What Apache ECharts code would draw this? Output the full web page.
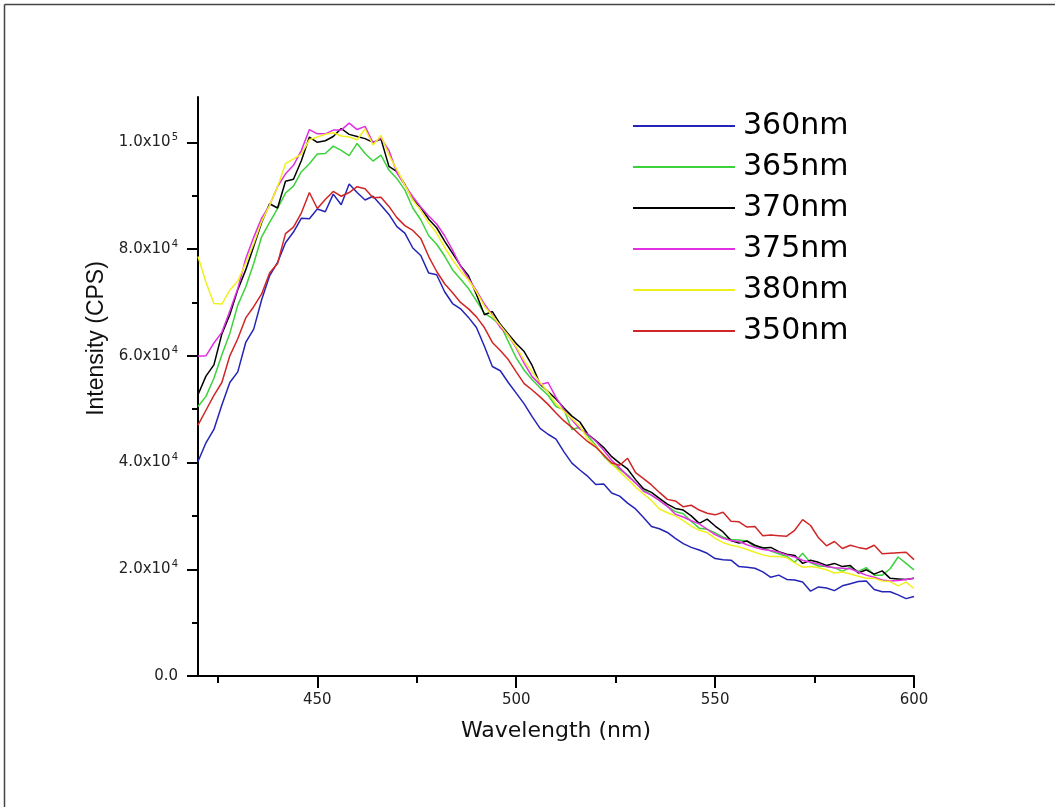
<!DOCTYPE html>
<html><head><meta charset="utf-8">
<script src="https://cdn.jsdelivr.net/npm/echarts@6/dist/echarts.min.js"></script>
<style>html,body{margin:0;padding:0;background:#fff}#c{width:1055px;height:807px}</style>
</head><body><div id="c"></div>
<script>
const wavelength = [420,422,424,426,428,430,432,434,436,438,440,442,444,446,448,450,452,454,456,458,460,462,464,466,468,470,472,474,476,478,480,482,484,486,488,490,492,494,496,498,500,502,504,506,508,510,512,514,516,518,520,522,524,526,528,530,532,534,536,538,540,542,544,546,548,550,552,554,556,558,560,562,564,566,568,570,572,574,576,578,580,582,584,586,588,590,592,594,596,598,600];

const s360 = [40200,43700,46200,50800,55000,57000,62500,65000,70500,75000,77500,81200,83200,85800,85700,87500,87000,90300,88300,92200,90600,89200,89900,88200,86500,84200,83000,80200,78800,75500,75200,72000,69800,68800,67200,65300,61800,58000,57200,55000,53000,51000,48600,46400,45300,44400,42000,39900,38600,37400,35900,36000,34300,33700,32400,31300,29700,28000,27600,26900,25800,24800,24100,23600,23000,22000,21800,21700,20500,20400,20200,19500,18500,18900,18100,18000,17600,15900,16700,16500,16000,16900,17300,17700,17800,16200,15800,15800,15200,14500,14900];

const s365 = [50500,52400,55800,60200,64200,69500,72900,77300,82300,85000,87600,90500,91800,94500,96000,97800,97900,99300,98500,97500,99800,97900,96500,97600,94800,93200,91100,87700,85500,82500,80900,78700,76100,74400,72600,70300,68000,67000,65800,62700,59600,57300,55500,54000,52600,50500,49900,46200,46600,45000,43200,41200,39700,38700,37700,36200,34900,33900,32900,31800,30800,30400,29000,27700,27500,26800,26000,25600,25500,25300,24200,24100,23400,22900,22400,21300,23000,21200,20600,20500,20300,19600,20400,19600,20300,18900,18900,20100,22300,21100,19900];

const s370 = [52700,56200,58300,64100,67700,72400,76100,80500,85000,88500,87700,92700,93100,96600,101000,100000,100300,101100,102600,101500,101100,100700,100000,100600,95500,94500,92100,89300,87800,85600,84000,81500,79200,76900,75000,71500,67700,68300,65900,64100,62300,60800,58200,54700,53300,51900,50200,48700,47600,45300,44100,42800,41100,39900,38800,36800,35100,34400,33300,32200,31400,31100,30000,28600,29400,28100,27000,25400,24900,25300,24500,24000,24100,23300,22800,22600,21100,21700,21300,20700,21100,20500,20700,19300,19900,19100,19700,18300,18200,18100,18300];

const s375 = [59900,60000,62400,64400,68400,72600,78200,82200,85800,88200,91700,94100,95700,98500,102400,101600,101600,102300,102300,103600,102400,103000,99900,100800,98500,94300,92000,89800,87900,86200,84700,82500,79800,76800,74500,72200,69700,67600,65300,63800,61500,58600,56100,54600,55000,52200,49900,48000,46300,45300,44000,42300,40400,39000,37500,36200,34600,33900,32900,31800,30300,29800,29100,28500,27500,26500,25800,25400,25200,24600,24100,23700,23500,23200,22700,22300,21700,21300,21000,20500,20300,20200,20100,19500,18900,18500,18000,17800,17900,18100,18300];

const s380 = [78600,73800,69800,69700,72300,74000,77400,81000,85200,88200,91700,96000,96900,97800,100500,101000,101500,101800,101200,101000,100500,102500,99500,101300,97600,94900,92000,89200,87200,84900,83000,80300,78000,75900,74200,72000,69300,67500,65700,63800,61700,59100,57000,55000,53200,51000,49600,48200,46800,44400,43000,41400,39700,38300,36900,35400,34100,32900,31300,30600,30000,29100,28100,27300,26900,25800,25000,24500,24200,23700,23200,22700,22400,22400,22200,21200,20400,20500,20300,19900,19300,19500,19100,18700,18300,18300,17800,17700,16900,17600,16400];

const s350 = [47000,49800,52600,55000,60000,63200,67100,69200,71600,75500,77300,82900,84100,86800,90600,87600,89300,90800,89900,90600,91700,91300,89600,89700,88000,85900,84400,83500,82000,78600,75800,73500,71800,70000,68800,67300,65300,62500,61000,59300,57000,54800,53600,52300,50900,49300,47800,46600,45200,43900,42900,41400,39900,39500,40800,38100,37000,35800,34400,33100,32800,31700,32000,31100,30500,30200,30700,29000,28900,27900,28000,26300,26400,26300,26200,27300,29300,28200,25900,24400,25200,23900,24500,24100,23800,24500,22900,23000,23100,23200,21800];

const seriesNames = ['360nm','365nm','370nm','375nm','380nm','350nm'];
const seriesValues = [s360,s365,s370,s375,s380,s350];
const seriesColors = ['#2424b8','#3cd23c','#000000','#e030e0','#f0f020','#d02626'];

const yMajorTicks = [0,20000,40000,60000,80000,100000];
const yMinorTicks = [10000,30000,50000,70000,90000];
const xMajorTicks = [450,500,550,600];
const xMinorTicks = [425,475,525,575];

const WIDE = 'DejaVu Sans, sans-serif';
const FONT = 'Liberation Sans, Arial, sans-serif';

function yLabel(v){
  if (v === 0) return '{m|0.0}';
  const e = Math.floor(Math.log10(v) + 1e-9);
  const m = (v / Math.pow(10, e)).toFixed(1);
  return '{m|' + m + 'x10}{s|' + e + '}';
}

const chart = echarts.init(document.getElementById('c'), null, {renderer:'canvas'});
chart.setOption({
  animation:false,
  backgroundColor:'#fff',
  grid: {left:198, right:141, top:97, bottom:131},
  legend: {
    orient:'vertical', left:627, top:106, itemWidth:102, itemHeight:28, itemGap:11,
    itemStyle:{opacity:0},
    textStyle:{fontFamily:WIDE, fontSize:30, color:'#000', padding:[0,0,0,3]},
    data: seriesNames
  },
  xAxis: [{
    type:'value', min:420, max:600,
    name:'Wavelength (nm)', nameLocation:'middle', nameGap:44,
    nameTextStyle:{fontFamily:WIDE, fontSize:22, color:'#111'},
    axisLine:{show:true, onZero:false, lineStyle:{color:'#000', width:2}},
    axisTick:{show:true, inside:false, length:12, customValues:xMajorTicks, lineStyle:{color:'#000', width:2}},
    axisLabel:{customValues:xMajorTicks, fontFamily:WIDE, fontSize:15, color:'#222', margin:17},
    splitLine:{show:false}
  },{
    type:'value', min:420, max:600, position:'bottom',
    axisLine:{show:false},
    axisTick:{show:true, length:7, customValues:xMinorTicks, lineStyle:{color:'#000', width:2}},
    axisLabel:{show:false}, splitLine:{show:false}
  }],
  yAxis: [{
    type:'value', min:0, max:108500,
    name:'Intensity (CPS)', nameLocation:'middle', nameGap:90, nameRotate:90,
    nameTextStyle:{fontFamily:FONT, fontSize:23, color:'#111', padding:[0,0,0,96]},
    axisLine:{show:true, onZero:false, lineStyle:{color:'#000', width:2}},
    axisTick:{show:true, length:11, customValues:yMajorTicks, lineStyle:{color:'#000', width:2}},
    axisLabel:{customValues:yMajorTicks, margin:20, formatter:yLabel,
      rich:{m:{fontFamily:WIDE, fontSize:15, color:'#222', lineHeight:20},
            s:{fontFamily:WIDE, fontSize:10, color:'#222', lineHeight:20, verticalAlign:'top', padding:[0,0,10,1]}}},
    splitLine:{show:false}
  },{
    type:'value', min:0, max:108500, position:'left',
    axisLine:{show:false},
    axisTick:{show:true, length:6, customValues:yMinorTicks, lineStyle:{color:'#000', width:2}},
    axisLabel:{show:false}, splitLine:{show:false}
  }],
  series: seriesNames.map((n,i)=>({
    name:n, type:'line', xAxisIndex:0, yAxisIndex:0,
    data: wavelength.map((w,k)=>[w, seriesValues[i][k]]),
    showSymbol:false, symbol:'none',
    lineStyle:{color:seriesColors[i], width:1.5},
    itemStyle:{color:seriesColors[i]}
  })),
  graphic:[
    {type:'line', shape:{x1:4.5,y1:4.5,x2:1055,y2:4.5}, style:{stroke:'#444', lineWidth:1.5}, silent:true},
    {type:'line', shape:{x1:4.5,y1:4.5,x2:4.5,y2:807}, style:{stroke:'#444', lineWidth:1.5}, silent:true}
  ]
});
</script></body></html>
